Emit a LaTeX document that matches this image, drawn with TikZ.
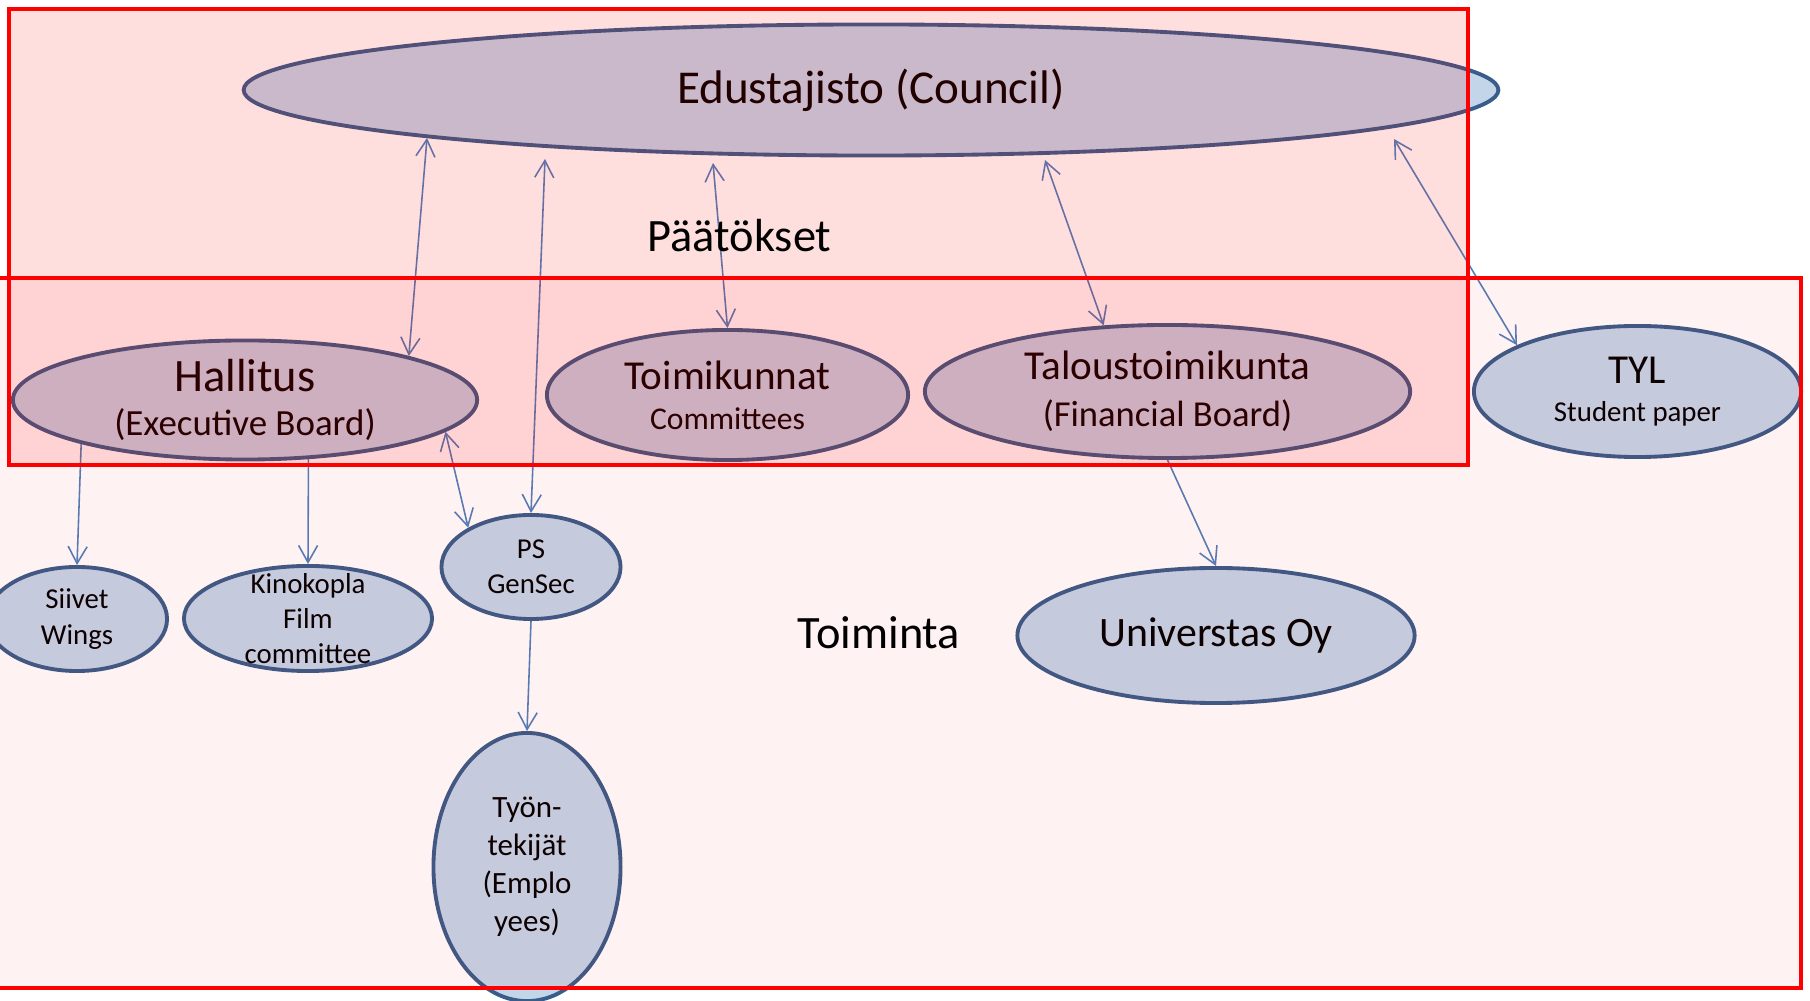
\documentclass[tikz,border=0pt]{standalone}
\usepackage{fontspec}
\setmainfont{Carlito}
\usetikzlibrary{shapes.geometric,arrows.meta,calc}
\definecolor{nodefill}{RGB}{195,213,233}
\definecolor{nodeline}{RGB}{56,93,138}
\definecolor{linkblue}{RGB}{79,129,189}
\newcommand{\fsz}[2]{\fontsize{#1}{#2}\selectfont}

\begin{document}
\begin{tikzpicture}[
    x=0.01cm, y=-0.01cm,
    >={Straight Barb[length=1.7mm,width=1.9mm]},
    org/.style={ellipse, draw=nodeline, fill=nodefill, line width=1.1pt, inner sep=0pt, align=center},
    link/.style={draw=linkblue, line width=0.45pt},
    zone/.style={draw=red, line width=1.4pt},
    tag/.style={anchor=base, font=\fsz{13.2}{15}}
]
    \useasboundingbox (0,0) rectangle (1810,1001);

    % council and the bodies under it
    \node[org, minimum width=12.54cm, minimum height=1.31cm, font=\fsz{13.4}{16}] (edu) at (871,90) {Edustajisto (Council)};
    \node[org, minimum width=4.64cm, minimum height=1.19cm, font=\fsz{10.5}{12.6}] (hal) at (245,400) {{\fsz{13.2}{12.6}Hallitus}\\(Executive Board)};
    \node[org, minimum width=3.61cm, minimum height=1.30cm, font=\fsz{9}{11.4}] (toim) at (727.5,395) {{\fsz{11.7}{11.4}Toimikunnat}\\Committees};
    \node[org, minimum width=4.85cm, minimum height=1.33cm, font=\fsz{10.4}{13.4}] (tal) at (1167.5,391.5) {{\fsz{11.7}{13.4}Taloustoimikunta}\\(Financial Board)};
    \node[org, minimum width=3.27cm, minimum height=1.31cm, font=\fsz{8.2}{10.8}] (tyl) at (1637.5,391.5) {{\fsz{11.7}{10.8}TYL}\\Student paper};

    % operations
    \node[org, minimum width=1.80cm, minimum height=1.04cm, font=\fsz{8.2}{10}] (siiv) at (77,619) {Siivet\\Wings};
    \node[org, minimum width=2.48cm, minimum height=1.05cm,
          label={[font=\fsz{8.2}{10}, align=center]center:Kinokopla\\Film\\committee}] (kino) at (308,618.5) {};
    \node[org, minimum width=1.79cm, minimum height=1.04cm, font=\fsz{8.2}{10}] (ps) at (531,567) {PS\\GenSec};
    \node[org, minimum width=1.87cm, minimum height=2.68cm, font=\fsz{8.8}{10.8}] (tyo) at (527,867) {Työn-\\tekijät\\(Emplo\\yees)};
    \node[org, minimum width=3.97cm, minimum height=1.35cm, font=\fsz{11.9}{14}] (uni) at (1216,635.5) {Universtas Oy};

    % connectors
    \draw[link, <->] ($(edu.center)+(-444,48)$) -- (hal.15.1);
    \draw[link, <->] ($(edu.center)+(-326,69)$) -- (ps.north);
    \draw[link, <->] ($(edu.center)+(-158,73)$) -- (toim.north);
    \draw[link, <->] ($(edu.center)+(174,70)$) -- (tal.134.3);
    \draw[link, <->] ($(edu.center)+(523,49)$) -- (tyl.159);
    \draw[link, ->] (hal.-165) -- (siiv.north);
    \draw[link, ->] (hal.-43.2) -- (kino.north);
    \draw[link, <->] (hal.-9.6) -- (ps.148.9);
    \draw[link, ->] (ps.south) -- (tyo.north);
    \draw[link, ->] (tal.south) -- (uni.north);

    % tinted zones on top
    \fill[red, fill opacity=0.05] (-5,278) rectangle (1801,988);
    \fill[red, fill opacity=0.13] (9,9) rectangle (1468,465);
    \draw[zone] (-5,278) rectangle (1801,988);
    \draw[zone] (9,9) rectangle (1468,465);

    \node[tag] (paatokset) at (739.5,252) {Päätökset};
    \node[tag] (toiminta) at (879,649) {Toiminta};
\end{tikzpicture}
\end{document}
